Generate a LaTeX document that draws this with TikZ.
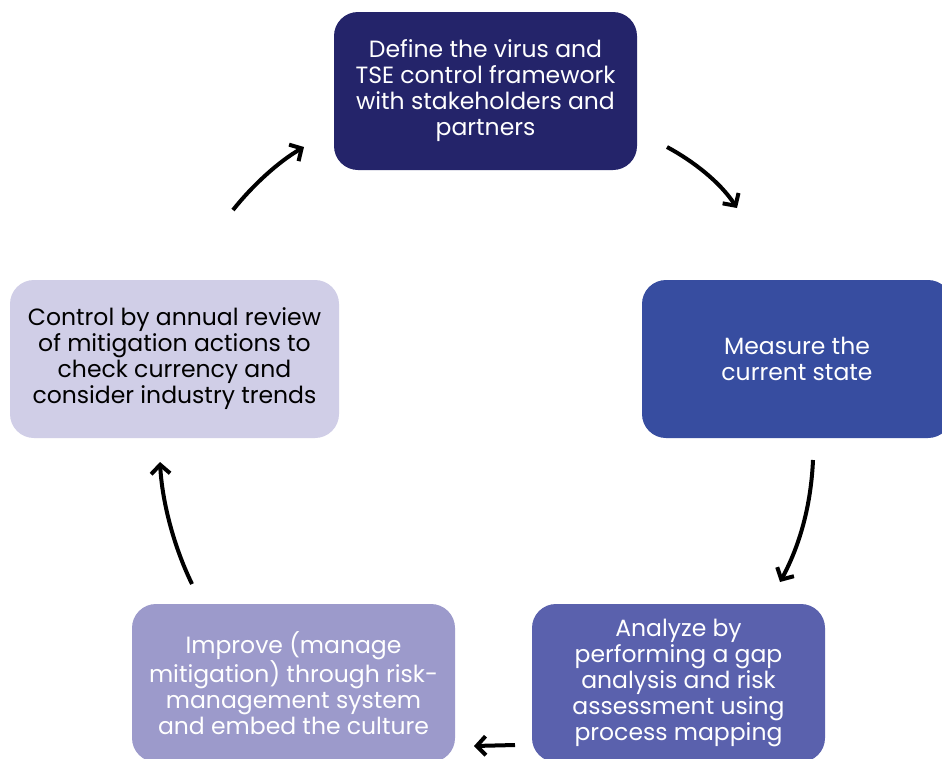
\documentclass[tikz,border=0pt]{standalone}
\usepackage{fontspec}
\setmainfont{Poppins}
\usetikzlibrary{positioning}
\usetikzlibrary{arrows.meta}
\definecolor{defcol}{HTML}{24246A}
\definecolor{meascol}{HTML}{374DA0}
\definecolor{anacol}{HTML}{5A61AD}
\definecolor{impcol}{HTML}{9C9ACB}
\definecolor{ctrlcol}{HTML}{D0CEE7}
\begin{document}
\begin{tikzpicture}[x=1pt,y=-1pt,
    stage/.style={rounded corners=24pt, minimum height=158pt, align=center, text=white, inner sep=0pt, font=\fontsize{23.5}{26}\selectfont},
    cyc/.style={line width=4pt, -{Straight Barb[length=9pt,width=19pt]}}]
    \useasboundingbox (0,0) rectangle (942,758);
    \fill[white] (0,0) rectangle (942,758);
    % Stages
    \node [stage, fill=defcol, minimum width=303pt] (define) at (485.5,91) {Define the virus and\\TSE control framework\\with stakeholders and\\partners};
    \node [stage, fill=meascol, minimum width=310pt] (measure) at (797,359) {Measure the\\current state};
    \node [stage, fill=anacol, minimum width=293pt] (analyze) at (678.5,683) {Analyze by\\performing a gap\\analysis and risk\\assessment using\\process mapping};
    \node [stage, fill=impcol, minimum width=323pt] (improve) at (293.5,683) {Improve (manage\\mitigation) through risk-\\management system\\and embed the culture};
    \node [stage, fill=ctrlcol, text=black, minimum width=329pt] (control) at (174.5,359) {Control by annual review\\of mitigation actions to\\check currency and\\consider industry trends};

    % Arrow ends
    \coordinate (c_def_a) at (667,147);
    \coordinate (c_def_b) at (737,208);
    \coordinate (c_meas_a) at (813,460);
    \coordinate (c_meas_b) at (780,582);
    \coordinate (c_ana_a) at (515,745);
    \coordinate (c_ana_b) at (474,746);
    \coordinate (c_imp_a) at (192,584);
    \coordinate (c_imp_b) at (160,462);
    \coordinate (c_ctrl_a) at (233,210);
    \coordinate (c_ctrl_b) at (304,147);

    % Cycle
    \draw[cyc] (c_def_a) .. controls (693,161) and (720,182) .. (c_def_b);
    \draw[cyc] (c_meas_a) .. controls (811,505) and (800,545) .. (c_meas_b);
    \draw[cyc] (c_ana_a) -- (c_ana_b);
    \draw[cyc] (c_imp_a) .. controls (173,545) and (162,500) .. (c_imp_b);
    \draw[cyc] (c_ctrl_a) .. controls (252,186) and (278,162) .. (c_ctrl_b);
\end{tikzpicture}
\end{document}
